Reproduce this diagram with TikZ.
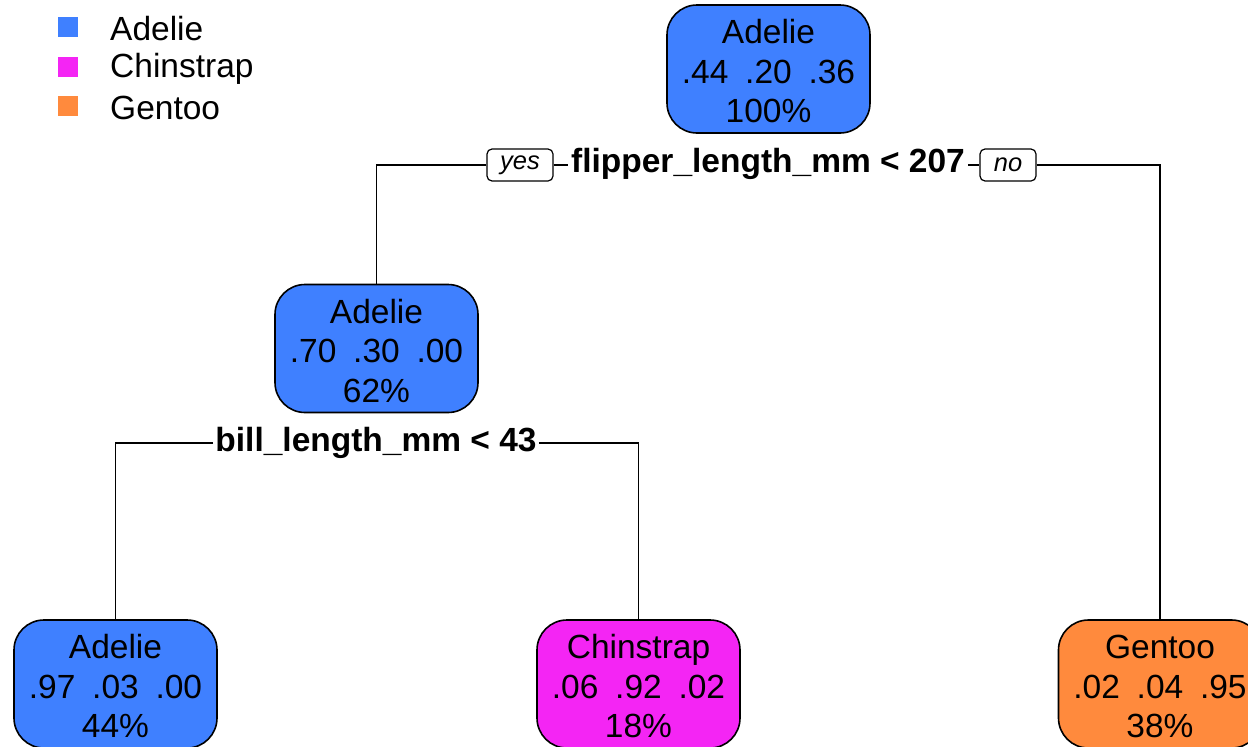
\documentclass[tikz,border=0pt]{standalone}
\usepackage{fontspec}
\setmainfont{Liberation Sans}
\definecolor{cAdelie}{HTML}{3F80FF}
\definecolor{cChin}{HTML}{F425F4}
\definecolor{cGent}{HTML}{FF8A3D}
\tikzset{
  treenode/.style={draw=black, line width=1.6pt, rounded corners=30pt,
    minimum width=203pt, minimum height=128pt, align=center, inner sep=0pt,
    font=\fontsize{33.5}{39.5}\selectfont, text=black},
  splitlabel/.style={font=\bfseries\fontsize{33.5}{38}\selectfont, inner ysep=2pt},
  yesno/.style={draw=black, line width=1.2pt, rounded corners=5pt, minimum height=32pt,
    inner sep=0pt, font=\itshape\fontsize{25.5}{28}\selectfont},
  conn/.style={draw=black, line width=1.4pt},
  legsq/.style={minimum size=20pt, inner sep=0pt},
  legtxt/.style={anchor=west, inner sep=0pt, font=\fontsize{33.5}{38}\selectfont}
}
\newcommand{\gp}{\hspace{0.5em}}
\newcommand{\tp}{\rule{0pt}{28.5pt}}
\begin{document}
\begin{tikzpicture}[x=1pt,y=-1pt]
\useasboundingbox (0,0) rectangle (1248,747);
\clip (0,0) rectangle (1248,747);
% legend
\node[legsq, fill=cAdelie] (la) at (68,27) {};
\node[legsq, fill=cChin] (lc) at (68,67) {};
\node[legsq, fill=cGent] (lg) at (68,106) {};
\node[legtxt] (tla) at (110,29) {Adelie};
\node[legtxt] (tlc) at (110,69) {Chinstrap};
\node[legtxt] (tlg) at (110,108) {Gentoo};
% nodes
\node[treenode, fill=cAdelie] (root) at (768.5,69) {\tp Adelie\\.44\gp.20\gp.36\\100\%};
\node[treenode, fill=cAdelie] (n2) at (376.5,348.5) {\tp Adelie\\.70\gp.30\gp.00\\62\%};
\node[treenode, fill=cAdelie] (n4) at (115.5,684) {\tp Adelie\\.97\gp.03\gp.00\\44\%};
\node[treenode, fill=cChin] (n5) at (638.5,684) {\tp Chinstrap\\.06\gp.92\gp.02\\18\%};
\node[treenode, fill=cGent] (n3) at (1160,684) {\tp Gentoo\\.02\gp.04\gp.95\\38\%};
% split labels
\node[splitlabel, inner xsep=3pt] (s1) at (768,164) {flipper\_length\_mm < 207};
\node[splitlabel, inner xsep=2pt] (s2) at (376,443) {bill\_length\_mm < 43};
\node[yesno, minimum width=66pt] (yes) at (520,165) {yes};
\node[yesno, minimum width=56pt] (no) at (1008,165) {no};
% connectors
\draw[conn] (yes.east) -- (yes.east -| s1.west);
\draw[conn] (yes.west) -| (n2.north);
\draw[conn] (no.west -| s1.east) -- (no.west);
\draw[conn] (no.east) -| (n3.north);
\draw[conn] (s2.west) -| (n4.north);
\draw[conn] (s2.east) -| (n5.north);
\end{tikzpicture}
\end{document}
